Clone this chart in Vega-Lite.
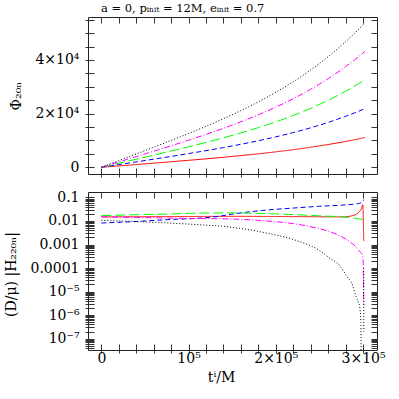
{
  "$schema": "https://vega.github.io/schema/vega-lite/v6.json",
  "padding": {"left": 3, "top": 2, "right": 5, "bottom": 5},
  "spacing": 18,
  "bounds": "flush",
  "config": {
    "view": {"stroke": "#222", "strokeWidth": 1},
    "axis": {"domain": false, "grid": true, "gridColor": "#333", "gridOpacity": 1, "gridWidth": 1, "tickColor": "#333", "tickSize": 3, "labelFont": "DejaVu Serif", "titleFont": "DejaVu Serif", "labelFontSize": 14, "titleFontSize": 14, "labelColor": "black", "titleColor": "black", "titleFontWeight": "normal"}
  },
  "datasets": {
    "phi": [
      {"s": "1", "t": 0, "v": 0}, {"s": "1", "t": 20000, "v": 511}, {"s": "1", "t": 40000, "v": 1023}, {"s": "1", "t": 60000, "v": 1538}, {"s": "1", "t": 80000, "v": 2060}, {"s": "1", "t": 100000, "v": 2595}, {"s": "1", "t": 120000, "v": 3149}, {"s": "1", "t": 140000, "v": 3732}, {"s": "1", "t": 160000, "v": 4352}, {"s": "1", "t": 180000, "v": 5022}, {"s": "1", "t": 200000, "v": 5755}, {"s": "1", "t": 220000, "v": 6565}, {"s": "1", "t": 240000, "v": 7471}, {"s": "1", "t": 260000, "v": 8486}, {"s": "1", "t": 280000, "v": 9635}, {"s": "1", "t": 290000, "v": 10264}, {"s": "1", "t": 302000, "v": 11073},
      {"s": "2", "t": 0, "v": 0}, {"s": "2", "t": 20000, "v": 1007}, {"s": "2", "t": 40000, "v": 2016}, {"s": "2", "t": 60000, "v": 3031}, {"s": "2", "t": 80000, "v": 4060}, {"s": "2", "t": 100000, "v": 5114}, {"s": "2", "t": 120000, "v": 6206}, {"s": "2", "t": 140000, "v": 7355}, {"s": "2", "t": 160000, "v": 8577}, {"s": "2", "t": 180000, "v": 9898}, {"s": "2", "t": 200000, "v": 11342}, {"s": "2", "t": 220000, "v": 12939}, {"s": "2", "t": 240000, "v": 14724}, {"s": "2", "t": 260000, "v": 16725}, {"s": "2", "t": 280000, "v": 18989}, {"s": "2", "t": 290000, "v": 20229}, {"s": "2", "t": 302000, "v": 21823},
      {"s": "3", "t": 0, "v": 0}, {"s": "3", "t": 20000, "v": 1503}, {"s": "3", "t": 40000, "v": 3009}, {"s": "3", "t": 60000, "v": 4524}, {"s": "3", "t": 80000, "v": 6060}, {"s": "3", "t": 100000, "v": 7633}, {"s": "3", "t": 120000, "v": 9263}, {"s": "3", "t": 140000, "v": 10978}, {"s": "3", "t": 160000, "v": 12802}, {"s": "3", "t": 180000, "v": 14774}, {"s": "3", "t": 200000, "v": 16929}, {"s": "3", "t": 220000, "v": 19313}, {"s": "3", "t": 240000, "v": 21977}, {"s": "3", "t": 260000, "v": 24964}, {"s": "3", "t": 280000, "v": 28343}, {"s": "3", "t": 290000, "v": 30194}, {"s": "3", "t": 302000, "v": 32573},
      {"s": "4", "t": 0, "v": 0}, {"s": "4", "t": 20000, "v": 1989}, {"s": "4", "t": 40000, "v": 3982}, {"s": "4", "t": 60000, "v": 5987}, {"s": "4", "t": 80000, "v": 8020}, {"s": "4", "t": 100000, "v": 10101}, {"s": "4", "t": 120000, "v": 12259}, {"s": "4", "t": 140000, "v": 14528}, {"s": "4", "t": 160000, "v": 16942}, {"s": "4", "t": 180000, "v": 19553}, {"s": "4", "t": 200000, "v": 22404}, {"s": "4", "t": 220000, "v": 25560}, {"s": "4", "t": 240000, "v": 29085}, {"s": "4", "t": 260000, "v": 33038}, {"s": "4", "t": 280000, "v": 37510}, {"s": "4", "t": 290000, "v": 39960}, {"s": "4", "t": 302000, "v": 43108},
      {"s": "5", "t": 0, "v": 0}, {"s": "5", "t": 20000, "v": 2480}, {"s": "5", "t": 40000, "v": 4965}, {"s": "5", "t": 60000, "v": 7465}, {"s": "5", "t": 80000, "v": 10000}, {"s": "5", "t": 100000, "v": 12595}, {"s": "5", "t": 120000, "v": 15285}, {"s": "5", "t": 140000, "v": 18115}, {"s": "5", "t": 160000, "v": 21125}, {"s": "5", "t": 180000, "v": 24380}, {"s": "5", "t": 200000, "v": 27935}, {"s": "5", "t": 220000, "v": 31870}, {"s": "5", "t": 240000, "v": 36265}, {"s": "5", "t": 260000, "v": 41195}, {"s": "5", "t": 280000, "v": 46770}, {"s": "5", "t": 290000, "v": 49825}, {"s": "5", "t": 302000, "v": 53750}
    ],
    "amp": [
      {"s": "1", "g": "a", "t": 0, "v": 0.0148}, {"s": "1", "g": "a", "t": 50000, "v": 0.0152}, {"s": "1", "g": "a", "t": 100000, "v": 0.0155}, {"s": "1", "g": "a", "t": 150000, "v": 0.0157}, {"s": "1", "g": "a", "t": 200000, "v": 0.0155}, {"s": "1", "g": "a", "t": 250000, "v": 0.0151}, {"s": "1", "g": "a", "t": 277000, "v": 0.0149}, {"s": "1", "g": "a", "t": 288000, "v": 0.0168}, {"s": "1", "g": "a", "t": 292000, "v": 0.019}, {"s": "1", "g": "a", "t": 296000, "v": 0.0255}, {"s": "1", "g": "a", "t": 298500, "v": 0.036}, {"s": "1", "g": "a", "t": 299700, "v": 0.049}, {"s": "1", "g": "a", "t": 300800, "v": 0.0014},
      {"s": "2", "g": "a", "t": 0, "v": 0.0082}, {"s": "2", "g": "a", "t": 40000, "v": 0.0095}, {"s": "2", "g": "a", "t": 76000, "v": 0.0114}, {"s": "2", "g": "a", "t": 114000, "v": 0.0133}, {"s": "2", "g": "a", "t": 134000, "v": 0.0157}, {"s": "2", "g": "a", "t": 152000, "v": 0.02}, {"s": "2", "g": "a", "t": 185000, "v": 0.028}, {"s": "2", "g": "a", "t": 223000, "v": 0.036}, {"s": "2", "g": "a", "t": 250000, "v": 0.042}, {"s": "2", "g": "a", "t": 275000, "v": 0.047}, {"s": "2", "g": "a", "t": 290000, "v": 0.052}, {"s": "2", "g": "a", "t": 297000, "v": 0.058}, {"s": "2", "g": "a", "t": 299700, "v": 0.066}, {"s": "2", "g": "a", "t": 300800, "v": 0.08},
      {"s": "3", "g": "a", "t": 0, "v": 0.0168}, {"s": "3", "g": "a", "t": 40000, "v": 0.0185}, {"s": "3", "g": "a", "t": 76000, "v": 0.0197}, {"s": "3", "g": "a", "t": 110000, "v": 0.0215}, {"s": "3", "g": "a", "t": 150000, "v": 0.022}, {"s": "3", "g": "a", "t": 190000, "v": 0.0205}, {"s": "3", "g": "a", "t": 223000, "v": 0.0185}, {"s": "3", "g": "a", "t": 250000, "v": 0.0165}, {"s": "3", "g": "a", "t": 277000, "v": 0.0148}, {"s": "3", "g": "a", "t": 290000, "v": 0.0132}, {"s": "3", "g": "a", "t": 296000, "v": 0.0121}, {"s": "3", "g": "a", "t": 299700, "v": 0.0118}, {"s": "3", "g": "a", "t": 300800, "v": 0.0145},
      {"s": "4", "g": "a", "t": 0, "v": 0.015}, {"s": "4", "g": "a", "t": 40000, "v": 0.0142}, {"s": "4", "g": "a", "t": 76000, "v": 0.0133}, {"s": "4", "g": "a", "t": 110000, "v": 0.0127}, {"s": "4", "g": "a", "t": 150000, "v": 0.0121}, {"s": "4", "g": "a", "t": 185000, "v": 0.0103}, {"s": "4", "g": "a", "t": 223000, "v": 0.0074}, {"s": "4", "g": "a", "t": 250000, "v": 0.0047}, {"s": "4", "g": "a", "t": 261000, "v": 0.0036}, {"s": "4", "g": "a", "t": 275000, "v": 0.0022}, {"s": "4", "g": "a", "t": 284000, "v": 0.00138}, {"s": "4", "g": "a", "t": 291000, "v": 0.00085}, {"s": "4", "g": "a", "t": 296000, "v": 0.00051}, {"s": "4", "g": "a", "t": 299000, "v": 0.00037}, {"s": "4", "g": "a", "t": 300000, "v": 0.00025}, {"s": "4", "g": "a", "t": 300800, "v": 0.0000028},
      {"s": "5", "g": "a", "t": 0, "v": 0.0106}, {"s": "5", "g": "a", "t": 40000, "v": 0.0094}, {"s": "5", "g": "a", "t": 76000, "v": 0.0082}, {"s": "5", "g": "a", "t": 110000, "v": 0.007}, {"s": "5", "g": "a", "t": 150000, "v": 0.0054}, {"s": "5", "g": "a", "t": 185000, "v": 0.0033}, {"s": "5", "g": "a", "t": 223000, "v": 0.0015}, {"s": "5", "g": "a", "t": 250000, "v": 0.00056}, {"s": "5", "g": "a", "t": 262000, "v": 0.00026}, {"s": "5", "g": "a", "t": 273000, "v": 0.000131}, {"s": "5", "g": "a", "t": 281000, "v": 0.000047}, {"s": "5", "g": "a", "t": 288000, "v": 0.0000186}, {"s": "5", "g": "a", "t": 292000, "v": 0.000006}, {"s": "5", "g": "a", "t": 295000, "v": 0.0000033}, {"s": "5", "g": "a", "t": 296000, "v": 0.0000025}, {"s": "5", "g": "a", "t": 297500, "v": 0.0000005}, {"s": "5", "g": "a", "t": 297900, "v": 1e-9},
      {"s": "5", "g": "b", "t": 300700, "v": 0.0001}, {"s": "5", "g": "b", "t": 300900, "v": 0.0000002}
    ]
  },
  "vconcat": [
    {
      "width": 289,
      "height": 157,
      "title": {"text": "a  =  0,  pᵢₙᵢₜ  =  12M,  eᵢₙᵢₜ  =  0.7", "anchor": "start", "frame": "group", "dx": 13, "font": "DejaVu Serif", "fontSize": 11.5, "fontWeight": "normal", "offset": -2, "color": "black"},
      "data": {"name": "phi"},
      "mark": {"type": "line", "strokeWidth": 1, "clip": true, "interpolate": "monotone"},
      "encoding": {
        "x": {"field": "t", "type": "quantitative", "scale": {"domain": [-15300, 316000], "nice": false, "zero": false},
              "axis": {"orient": "bottom", "values": [0, 20000, 40000, 60000, 80000, 100000, 120000, 140000, 160000, 180000, 200000, 220000, 240000, 260000, 280000, 300000], "labels": false, "gridDash": [6, 145, 6, 300], "title": null}},
        "y": {"field": "v", "type": "quantitative", "scale": {"domain": [-2500, 56000], "nice": false, "zero": false},
              "axis": {"orient": "left", "values": [0, 5000, 10000, 15000, 20000, 25000, 30000, 35000, 40000, 45000, 50000, 55000], "gridDash": [6, 277, 6, 400], "labelOverlap": false, "labelPadding": 6, "labelExpr": "datum.value == 0 ? '0' : datum.value == 20000 ? '2×10⁴' : datum.value == 40000 ? '4×10⁴' : ''", "title": "Φ₂₀ₙ", "titleX": -68, "titleBaseline": "alphabetic", "titleAlign": "center"}},
        "color": {"field": "s", "type": "nominal", "scale": {"domain": ["1", "2", "3", "4", "5"], "range": ["#ff0000", "#0000ff", "#00ff00", "#ff00ff", "#000000"]}, "legend": null},
        "strokeDash": {"field": "s", "type": "nominal", "scale": {"domain": ["1", "2", "3", "4", "5"], "range": [[1, 0], [5, 3], [10, 4], [6, 2, 1, 2], [1, 2]]}, "legend": null}
      }
    },
    {
      "width": 289,
      "height": 158,
      "data": {"name": "amp"},
      "mark": {"type": "line", "strokeWidth": 1, "clip": true, "interpolate": "monotone"},
      "encoding": {
        "x": {"field": "t", "type": "quantitative", "scale": {"domain": [-15300, 316000], "nice": false, "zero": false},
              "axis": {"orient": "bottom", "values": [0, 20000, 40000, 60000, 80000, 100000, 120000, 140000, 160000, 180000, 200000, 220000, 240000, 260000, 280000, 300000], "gridDash": [6, 146, 6, 300], "labelOverlap": false, "labelPadding": -2, "labelExpr": "datum.value == 0 ? '0' : datum.value == 100000 ? '10⁵' : datum.value == 200000 ? '2×10⁵' : datum.value == 300000 ? '3×10⁵' : ''", "title": "tⁱ/M", "titleX": 133, "titleY": 31, "titleBaseline": "alphabetic", "titleAlign": "center"}},
        "y": {"field": "v", "type": "quantitative", "scale": {"type": "log", "domain": [3.3e-8, 0.17], "nice": false},
              "axis": {"orient": "left", "values": [4e-8, 5e-8, 6e-8, 7e-8, 8e-8, 9e-8, 1e-7, 2e-7, 3e-7, 4e-7, 5e-7, 6e-7, 7e-7, 8e-7, 9e-7, 1e-6, 2e-6, 3e-6, 4e-6, 5e-6, 6e-6, 7e-6, 8e-6, 9e-6, 1e-5, 2e-5, 3e-5, 4e-5, 5e-5, 6e-5, 7e-5, 8e-5, 9e-5, 0.0001, 0.0002, 0.0003, 0.0004, 0.0005, 0.0006, 0.0007, 0.0008, 0.0009, 0.001, 0.002, 0.003, 0.004, 0.005, 0.006, 0.007, 0.008, 0.009, 0.01, 0.02, 0.03, 0.04, 0.05, 0.06, 0.07, 0.08, 0.09, 0.1], "gridDash": [6, 277, 6, 400], "labelOverlap": false, "labelPadding": 6, "labelExpr": "abs(log(datum.value) / LN10 - round(log(datum.value) / LN10)) > 0.01 ? '' : datum.value > 0.05 ? '0.1' : datum.value > 0.005 ? '0.01' : datum.value > 0.0005 ? '0.001' : datum.value > 0.00005 ? '0.0001' : datum.value > 0.000005 ? '10⁻⁵' : datum.value > 0.0000005 ? '10⁻⁶' : '10⁻⁷'", "title": "(D/μ) |H₂₂₀ₙ|", "titleX": -73, "titleY": 82, "titleBaseline": "alphabetic", "titleAlign": "center"}},
        "color": {"field": "s", "type": "nominal", "scale": {"domain": ["1", "2", "3", "4", "5"], "range": ["#ff0000", "#0000ff", "#00ff00", "#ff00ff", "#000000"]}, "legend": null},
        "strokeDash": {"field": "s", "type": "nominal", "scale": {"domain": ["1", "2", "3", "4", "5"], "range": [[1, 0], [5, 3], [10, 4], [6, 2, 1, 2], [1, 2]]}, "legend": null},
        "detail": {"field": "g", "type": "nominal"}
      }
    }
  ]
}
